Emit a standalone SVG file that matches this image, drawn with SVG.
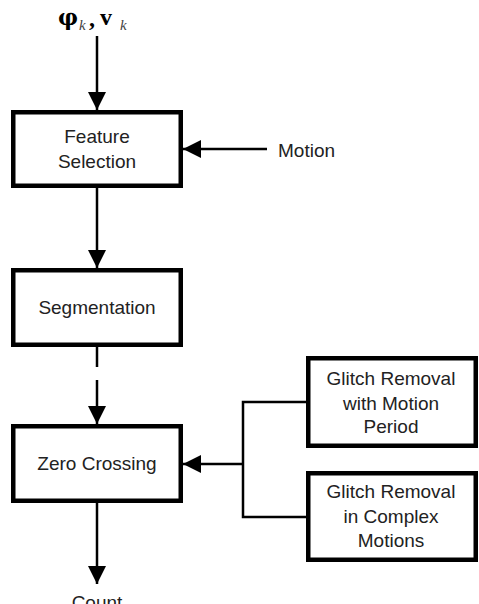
<svg xmlns="http://www.w3.org/2000/svg" width="479" height="604" viewBox="0 0 479 604">
<style>
.box{fill:#fff;stroke:#000;stroke-width:4.5}
.lbl{font-family:"Liberation Sans",Arial,sans-serif;font-size:19px;fill:#222;text-anchor:middle}
.ln{stroke:#000;stroke-width:2.5;fill:none}
.math{font-family:"Liberation Serif","Times New Roman",serif;font-weight:bold;font-size:24px;fill:#000}
.phi{font-family:"DejaVu Serif",serif;font-weight:bold;font-size:22px;fill:#000}
.sub{font-family:"Liberation Serif","Times New Roman",serif;font-style:italic;font-size:15px;fill:#444}
</style>
<defs>
<marker id="ah" viewBox="0 0 18 18" refX="18" refY="9" markerWidth="18" markerHeight="18" markerUnits="userSpaceOnUse" orient="auto">
<path d="M0,0 L18,9 L0,18 Z" fill="#000"/>
</marker>
</defs>
<g id="input-label">
<text x="58" y="25" class="phi" textLength="20" lengthAdjust="spacingAndGlyphs">φ</text><text x="79" y="30" class="sub">k</text>
<text x="89" y="26" class="math">,</text>
<text x="100" y="25" class="math">v</text><text x="120" y="30" class="sub">k</text>
</g>
<g id="connectors">
<line class="ln" x1="97" y1="36" x2="97" y2="110" marker-end="url(#ah)"/>
<line class="ln" x1="267" y1="149" x2="183" y2="149" marker-end="url(#ah)"/>
<line class="ln" x1="97" y1="188" x2="97" y2="268" marker-end="url(#ah)"/>
<line class="ln" x1="97" y1="347" x2="97" y2="367"/>
<line class="ln" x1="97" y1="380" x2="97" y2="424" marker-end="url(#ah)"/>
<line class="ln" x1="97" y1="503" x2="97" y2="584" marker-end="url(#ah)"/>
<polyline class="ln" points="306,402 243,402 243,517 306,517"/>
<line class="ln" x1="243" y1="464" x2="183" y2="464" marker-end="url(#ah)"/>
</g>
<g id="motion-label">
<text x="278" y="157" class="lbl" style="text-anchor:start">Motion</text>
</g>
<g id="feature-selection">
<rect class="box" x="13.25" y="112.25" width="167.5" height="73.5"/>
<text x="97" y="143" class="lbl">Feature</text>
<text x="97" y="168" class="lbl">Selection</text>
</g>
<g id="segmentation">
<rect class="box" x="13.25" y="270.25" width="167.5" height="74.5"/>
<text x="97" y="314" class="lbl">Segmentation</text>
</g>
<g id="zero-crossing">
<rect class="box" x="13.25" y="426.25" width="167.5" height="74.5"/>
<text x="97" y="470" class="lbl">Zero Crossing</text>
</g>
<g id="glitch-motion-period">
<rect class="box" x="308.25" y="358.25" width="167.5" height="87.5"/>
<text x="391" y="385" class="lbl">Glitch Removal</text>
<text x="391" y="410" class="lbl">with Motion</text>
<text x="391" y="433" class="lbl">Period</text>
</g>
<g id="glitch-complex">
<rect class="box" x="308.25" y="473.25" width="167.5" height="86.5"/>
<text x="391" y="498" class="lbl">Glitch Removal</text>
<text x="391" y="523" class="lbl">in Complex</text>
<text x="391" y="547" class="lbl">Motions</text>
</g>
<g id="count">
<text x="97" y="609" class="lbl">Count</text>
</g>
</svg>
